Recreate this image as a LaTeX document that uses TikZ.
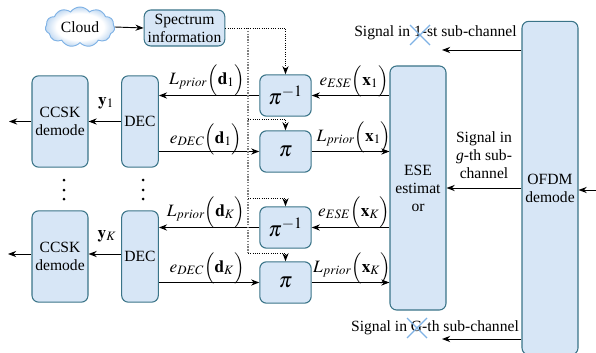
\documentclass[tikz,border=0pt]{standalone}
\usepackage{amsmath, amsfonts, amssymb}
\usepackage{mathptmx}
\usepackage[no-math]{fontspec}
\setmainfont{Liberation Serif}
\usepackage{tikz}
\usetikzlibrary{arrows.meta}
\usetikzlibrary{shapes.symbols}
\definecolor{boxfill}{HTML}{D7E6F6}
\definecolor{boxline}{HTML}{3A7488}
\definecolor{crossblue}{HTML}{7FB2E5}
\pgfdeclareradialshading{cloudfade}{\pgfpoint{0bp}{0bp}}{color(0bp)=(white); color(17bp)=(white); color(25bp)=(boxfill!75!crossblue); color(50bp)=(boxfill!75!crossblue)}
\tikzset{
  block/.style={draw=boxline,fill=boxfill,line width=0.8pt,rounded corners=5pt,align=center,inner sep=0pt},
  demod/.style={block,minimum width=42pt,minimum height=68.5pt},
  dec/.style={block,minimum width=27.5pt,minimum height=68.5pt},
  inter/.style={block,minimum width=38.5pt,minimum height=31pt,font=\fontsize{16}{18}\selectfont},
  lab/.style={inner sep=0pt,align=center},
  mlab/.style={lab,font=\fontsize{13}{15}\selectfont},
  dotline/.style={densely dotted,line width=0.7pt},
  thin cross/.style={crossblue,line width=0.9pt,-}
}
\begin{document}
\begin{tikzpicture}[x=0.75pt,y=-0.75pt,->,>=Stealth,line width=0.7pt,font=\fontsize{11.7}{13.5}\selectfont]
  \useasboundingbox (0,0) rectangle (596,353);
  \node[cloud,cloud puffs=11,cloud puff arc=110,aspect=1.9,draw=crossblue,shading=cloudfade,minimum width=52pt,minimum height=30pt,inner sep=0pt] (cloud) at (80,27) {Cloud};
  \node[block,minimum width=60.5pt,minimum height=27pt] (spectrum) at (184.5,28) {Spectrum\\information};
  \node[demod] (ccsk_1) at (60,121.5) {CCSK\\demode};
  \node[dec] (dec_1) [right of=ccsk_1,node distance=60pt] {DEC};
  \node[demod] (ccsk_K) at (60,256.5) {CCSK\\demode};
  \node[dec] (dec_K) [right of=ccsk_K,node distance=60pt] {DEC};
  \node[inter] (pinv_1) at (285.5,95.5) {$\pi^{-1}$};
  \node[inter] (pi_1)   at (285.5,151.5) {$\pi$};
  \node[inter] (pinv_K) at (285.5,227.5) {$\pi^{-1}$};
  \node[inter] (pi_K)   at (285.5,282.5) {$\pi$};
  \node[block,minimum width=42pt,minimum height=183pt] (ese) at (418,188) {ESE\\estimat\\or};
  \node[block,minimum width=42pt,minimum height=250pt] (ofdm) at (550,188) {OFDM\\demode};
  % free ends
  \coordinate (out_1) at (9,121.5);
  \coordinate (out_K) at (8,254);
  \coordinate (in_ofdm) at (596,190);
  \coordinate (sig_1) at (442,50);
  \coordinate (sig_G) at (442,339);
  \coordinate (bus_top) at (248,28);
  \coordinate (bus_a) at (248,119);
  \coordinate (bus_b) at (248,198);
  \coordinate (bus_c) at (248,253);
  % solid arrows
  \draw[->] (cloud.east) -- (spectrum.west);
  \draw[->] (ccsk_1.west) -- (out_1);
  \draw[->] (dec_1.west) -- (ccsk_1.east);
  \draw[->] (pinv_1.west) -- (pinv_1.west -| dec_1.east);
  \draw[->] (pi_1.west -| dec_1.east) -- (pi_1.west);
  \draw[->] (ese.west |- pinv_1.east) -- (pinv_1.east);
  \draw[->] (pi_1.east) -- (pi_1.east -| ese.west);
  \draw[->] (ccsk_K.west |- out_K) -- (out_K);
  \draw[->] (dec_K.west |- out_K) -- (ccsk_K.east |- out_K);
  \draw[->] (pinv_K.west) -- (pinv_K.west -| dec_K.east);
  \draw[->] (pi_K.west -| dec_K.east) -- (pi_K.west);
  \draw[->] (ese.west |- pinv_K.east) -- (pinv_K.east);
  \draw[->] (pi_K.east) -- (pi_K.east -| ese.west);
  \draw[->] (ofdm.west |- sig_1) -- (sig_1);
  \draw[->] (ofdm.west) -- (ese.east |- ofdm.west);
  \draw[->] (ofdm.west |- sig_G) -- (sig_G);
  \draw[->] (in_ofdm) -- (ofdm.east |- in_ofdm);
  % dotted control lines
  \draw[dotline,-,gray,line width=1.1pt] (bus_top) -- (bus_c);
  \draw[dotline,->] (spectrum.east) -| (pinv_1.north);
  \draw[dotline,->] (bus_a) -| (pi_1.north);
  \draw[dotline,->] (bus_b) -| (pinv_K.north);
  \draw[dotline,->] (bus_c) -| (pi_K.north);
  % labels
  \node[mlab] (l_y1) at (106,103) {$\mathbf{y}_1$};
  \node[mlab] (l_yK) at (107,236) {$\mathbf{y}_K$};
  \node[mlab] (l_1) at (207,80) {$L_{prior}\Bigl(\mathbf{d}_1\Bigr)$};
  \node[mlab] (l_2) at (206,139) {$e_{DEC}\Bigl(\mathbf{d}_1\Bigr)$};
  \node[mlab] (l_3) at (206,212) {$L_{prior}\Bigl(\mathbf{d}_K\Bigr)$};
  \node[mlab] (l_4) at (207,268) {$e_{DEC}\Bigl(\mathbf{d}_K\Bigr)$};
  \node[mlab] (l_5) at (354,81) {$e_{ESE}\Bigl(\mathbf{x}_1\Bigr)$};
  \node[mlab] (l_6) at (354,137) {$L_{prior}\Bigl(\mathbf{x}_1\Bigr)$};
  \node[mlab] (l_7) at (354,212) {$e_{ESE}\Bigl(\mathbf{x}_K\Bigr)$};
  \node[mlab] (l_8) at (352,268) {$L_{prior}\Bigl(\mathbf{x}_K\Bigr)$};
  \node[lab] (sigtext_1) at (435.5,33) {Signal in 1-st sub-channel};
  \node[lab] (sigtext_g) at (484,155) {Signal in\\\textit{g}-th sub-\\channel};
  \node[lab] (sigtext_G) at (435,328) {Signal in G-th sub-channel};
  % crosses over the numbers
  \draw[thin cross] (410,25) -- (430,45);
  \draw[thin cross] (410,45) -- (430,25);
  \draw[thin cross] (407,318) -- (427,338);
  \draw[thin cross] (407,338) -- (427,318);
  % dots
  \foreach \ypos in {180,190,199} {
    \fill (64,\ypos) circle (1.5);
    \fill (143,\ypos) circle (1.5);
  }
\end{tikzpicture}
\end{document}
